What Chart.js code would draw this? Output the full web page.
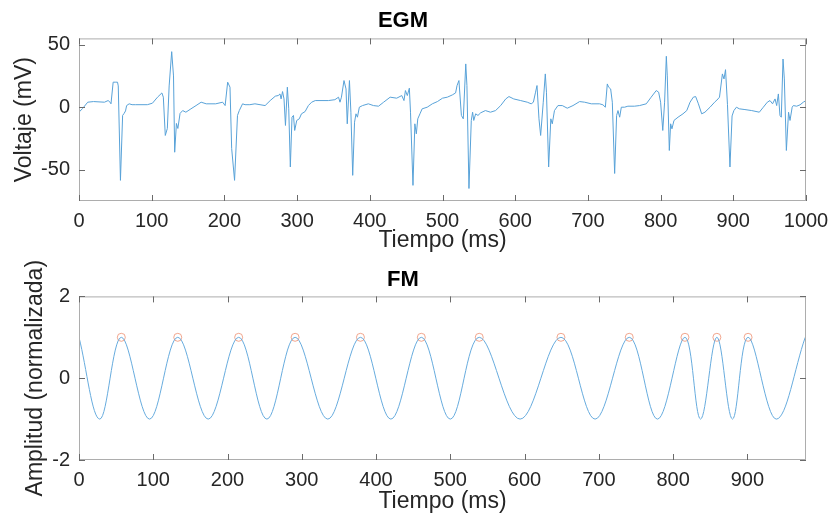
<!DOCTYPE html>
<html>
<head>
<meta charset="utf-8">
<script src="https://cdn.jsdelivr.net/npm/chart.js@4.4.1/dist/chart.umd.min.js"></script>
<style>
  body { margin: 0; background: #fff; }
  canvas { position: absolute; left: 0; }
  #egmChart { top: 0; }
  #fmChart { top: 260px; }
</style>
</head>
<body>
<canvas id="egmChart" width="829" height="260"></canvas>
<canvas id="fmChart" width="829" height="261"></canvas>
<script>
// EGM trace (time in ms, voltage in mV)
const egmTime = [
  0, 5, 12, 20, 35, 40, 42, 44, 47, 50,
  53, 54, 57, 60, 62, 64, 65.5, 69, 73, 78,
  94, 101, 108, 114, 116, 118.7, 121.5, 124, 127.5, 130,
  131.6, 134, 136, 139, 142.6, 147, 154, 161, 168, 175,
  188, 197.6, 201, 204.5, 207.7, 210, 214, 218, 220.5, 225,
  228.4, 235, 242, 249, 256, 263, 270, 274, 276.5, 278,
  280, 282, 284, 286.6, 288.5, 290.7, 293, 295, 296.7, 299.5,
  303, 306, 311, 315.5, 320, 325, 331.5, 343, 352, 357,
  359, 361, 364.5, 367.3, 369, 372, 374, 376.5, 379, 381,
  383, 385.6, 390, 398, 405, 412, 419, 428, 437, 444,
  447, 449, 451.6, 454.4, 456, 459.4, 462, 464, 466, 469,
  472, 479, 486, 493, 500, 506.6, 513.5, 518, 520, 522.6,
  526, 528.6, 532, 533.6, 536.4, 539.6, 541.4, 543, 545.6, 548.8,
  552.5, 559, 566, 573, 580, 587, 591.4, 598, 607.5, 616.6,
  622, 625, 628, 630, 632.7, 635, 638.6, 641.4, 643, 646,
  649, 651, 654, 658.8, 664.8, 671.6, 679.5, 688.6, 695.5, 704.7,
  716, 720.7, 724, 726.7, 728.5, 731.3, 733.6, 736.8, 739.5, 741.4,
  743.7, 746, 750.5, 755, 764, 771, 780.3, 787, 794, 797.3,
  800, 803, 805.5, 807.9, 809.2, 812, 813.8, 815.6, 818.4, 824,
  830.8, 836, 840.5, 845, 848.2, 852, 856.5, 861, 868, 874.3,
  879, 881, 885, 887.2, 889.3, 892, 895.4, 898.3, 900.8, 904.3,
  908.3, 916, 925.3, 935.8, 941.3, 946.8, 950.5, 954, 957.4, 959.7,
  962, 964.2, 966, 968.4, 970.2, 973, 976, 978, 981, 982.6,
  987.2, 991.8, 996.3, 1000
];
const egmVolt = [
  -4, -1, 4, 4.5, 4, 5.3, 4.5, 2.7, 20, 20,
  20, 17, -58.5, -6.6, -5, -3, 1.3, 2.7, 2, 2,
  2, 3.2, 8, 11.4, 8, -22.6, -17, 17, 44.4, 25,
  -36, -13, -17, -5, -2.7, -4, -1.3, 1.3, 4, 2.7,
  2.7, 4, 1.3, 20, 16, -33, -58.5, -6.6, -2.7, 2.7,
  2, 2, 2.7, 2, 1.3, 5.3, 8.8, 9.3, 10.6, 6.6,
  12.5, 6.6, -14.6, 16, -1.3, -47.8, -8, -6.6, -18.6, -10.6,
  -9.3, -5.3, -3.5, 1.3, 4, 5.3, 5.3, 5.3, 6, 8,
  4, 8, 21.3, 14.6, -13.3, 21.3, -4, -54.5, -12, -5.3,
  -8, 0, 1.3, 2.7, 1.3, 0.8, 4, 8, 7.2, 9.3,
  5.3, 13.3, 9.3, 15.2, -4, -62.5, -13.3, -21.3, -9.3, -5.3,
  -1.3, 0, 2.7, 4.5, 7.2, 8, 9.8, 11.4, 17.3, 21.3,
  -6.6, -9.3, 34.6, 17.3, -65, -10.6, -4, -10.6, -5.3, -6.6,
  -4.5, -2.7, -4, -2.7, 1.3, 6.6, 8.5, 6.6, 5.3, 4,
  2.7, 4, 12, 17.3, -9.3, -22.6, 4, 26.6, 12, -47.8,
  -9.3, -13.3, -2.7, 1.3, 1.3, -0.8, 1.3, 4.5, 4, 2.7,
  2.7, 1.9, 0, 18.6, 16, 14.6, 4, -53, -6.6, -2.7,
  -8, 0, 0, 0.8, 0.8, 1.3, 2.7, 8, 13.3, 12,
  4, -18.6, 4, 40.7, 25, -34.6, -13.3, -17.3, -10.6, -8,
  -5.3, -2.7, 4, 8, 8.5, 2.7, -5.3, -4, 0, 4,
  6.6, 8, 26.6, 22.6, 30, 2, -47.8, -7, -2.7, 0,
  -1.3, -1.9, -2.7, -4, 0, 4, 5.3, 2.7, 6.6, 1.3,
  10.6, -6.6, -8, 38.5, 22.6, -34.6, -4, -10.6, 0, 1.3,
  0.8, 1.9, 4, 5.3
];

// FM signal: crests and troughs (ms, normalized amplitude)
const fmTime = [0, 28, 57, 95, 133, 174, 215, 253, 291, 335, 379, 420, 461, 500,
                539, 594, 649, 695, 741, 779, 816, 837, 859, 880, 901, 939, 978];
const fmAmp = [1, -1, 1, -1, 1, -1, 1, -1, 1, -1, 1, -1, 1, -1,
               1, -1, 1, -1, 1, -1, 1, -1, 1, -1, 1, -1, 1];

// detected peaks (orange circles)
const peakTime = [57, 133, 215, 291, 379, 461, 539, 649, 741, 816, 859, 901];
const peakAmp = [1, 1, 1, 1, 1, 1, 1, 1, 1, 1, 1, 1];

// tick values
const egmXTicks = [0, 100, 200, 300, 400, 500, 600, 700, 800, 900, 1000];
const egmYTicks = [-50, 0, 50];
const fmXTicks = [0, 100, 200, 300, 400, 500, 600, 700, 800, 900];
const fmYTicks = [-2, 0, 2];

const FONT = "'Liberation Sans', Arial, Helvetica, sans-serif";
const TEXT = '#262626';

// matlab style frame with ticks pointing inward
const boxPlugin = {
  id: 'box',
  afterDraw(chart) {
    const {ctx, chartArea: a, scales} = chart;
    const len = 6;
    ctx.save();
    ctx.lineWidth = 1;
    ctx.strokeStyle = '#adadad';
    ctx.strokeRect(a.left + 0.5, a.top + 0.5, a.right - a.left - 1, a.bottom - a.top - 1);
    ctx.strokeStyle = '#6a6a6a';
    ctx.beginPath();
    scales.x.ticks.forEach(t => {
      const px = Math.round(scales.x.getPixelForValue(t.value)) + 0.5;
      ctx.moveTo(px, a.bottom); ctx.lineTo(px, a.bottom - len);
      ctx.moveTo(px, a.top); ctx.lineTo(px, a.top + len);
    });
    scales.y.ticks.forEach(t => {
      const py = Math.round(scales.y.getPixelForValue(t.value)) + 0.5;
      ctx.moveTo(a.left, py); ctx.lineTo(a.left + len, py);
      ctx.moveTo(a.right, py); ctx.lineTo(a.right - len, py);
    });
    ctx.stroke();
    ctx.restore();
  }
};

function makeOptions(cfg) {
  return {
    responsive: false,
    animation: false,
    devicePixelRatio: 1,
    layout: { padding: { left: 0, right: 23, top: 0, bottom: 0 } },
    plugins: {
      legend: { display: false },
      tooltip: { enabled: false },
      title: {
        display: true,
        text: cfg.title,
        color: '#000',
        font: { family: FONT, size: 22, weight: 'bold' },
        padding: cfg.titlePad
      }
    },
    scales: {
      x: {
        type: 'linear',
        min: cfg.xMin,
        max: cfg.xMax,
        afterBuildTicks: s => { s.ticks = cfg.xTicks.map(v => ({ value: v })); },
        afterFit: s => {
          s.height = cfg.xHeight;
          // let the layout padding decide the plot edges
          s.paddingLeft = 0;
          s.paddingRight = 0;
        },
        grid: { display: false, drawTicks: false },
        border: { display: false },
        ticks: {
          autoSkip: false, maxRotation: 0, padding: 8, color: TEXT,
          font: { family: FONT, size: 20 },
          callback: v => String(v)
        },
        title: {
          display: true, text: 'Tiempo (ms)', color: TEXT,
          font: { family: FONT, size: 23 },
          padding: { top: 0, bottom: cfg.xTitlePad }
        }
      },
      y: {
        min: cfg.yMin,
        max: cfg.yMax,
        afterBuildTicks: s => { s.ticks = cfg.yTicks.map(v => ({ value: v })); },
        afterFit: s => { s.width = 79; },
        grid: { display: false, drawTicks: false },
        border: { display: false },
        ticks: {
          padding: 9, color: TEXT,
          font: { family: FONT, size: 20 },
          callback: v => String(v)
        },
        title: {
          display: true, text: cfg.yLabel, color: TEXT,
          font: { family: FONT, size: 23 },
          padding: { top: cfg.yTitlePad, bottom: 0 }
        }
      }
    }
  };
}

new Chart(document.getElementById('egmChart'), {
  type: 'line',
  data: {
    datasets: [{
      data: egmTime.map((t, i) => ({ x: t, y: egmVolt[i] })),
      borderColor: 'rgb(88,162,216)',
      borderWidth: 1,
      pointRadius: 0,
      tension: 0
    }]
  },
  options: makeOptions({
    title: 'EGM', titlePad: { top: 8, bottom: 4 },
    xMin: 0, xMax: 1000, xTicks: egmXTicks, xHeight: 59, xTitlePad: 6,
    yMin: -75, yMax: 55, yTicks: egmYTicks, yLabel: 'Voltaje (mV)', yTitlePad: 11
  }),
  plugins: [boxPlugin]
});

new Chart(document.getElementById('fmChart'), {
  type: 'line',
  data: {
    datasets: [{
      data: fmTime.map((t, i) => ({ x: t, y: fmAmp[i] })),
      borderColor: 'rgb(104,172,222)',
      borderWidth: 1,
      pointRadius: 0,
      tension: 0.364
    }, {
      data: peakTime.map((t, i) => ({ x: t, y: peakAmp[i] })),
      showLine: false,
      pointStyle: 'circle',
      pointRadius: 4,
      pointBorderWidth: 1,
      pointBorderColor: 'rgba(235,130,95,0.7)',
      pointBackgroundColor: 'rgba(0,0,0,0)'
    }]
  },
  options: makeOptions({
    title: 'FM', titlePad: { top: 7, bottom: 3 },
    xMin: 0, xMax: 979, xTicks: fmXTicks, xHeight: 61, xTitlePad: 6,
    yMin: -2, yMax: 2, yTicks: fmYTicks, yLabel: 'Amplitud (normalizada)', yTitlePad: 22
  }),
  plugins: [boxPlugin]
});
</script>
</body>
</html>
